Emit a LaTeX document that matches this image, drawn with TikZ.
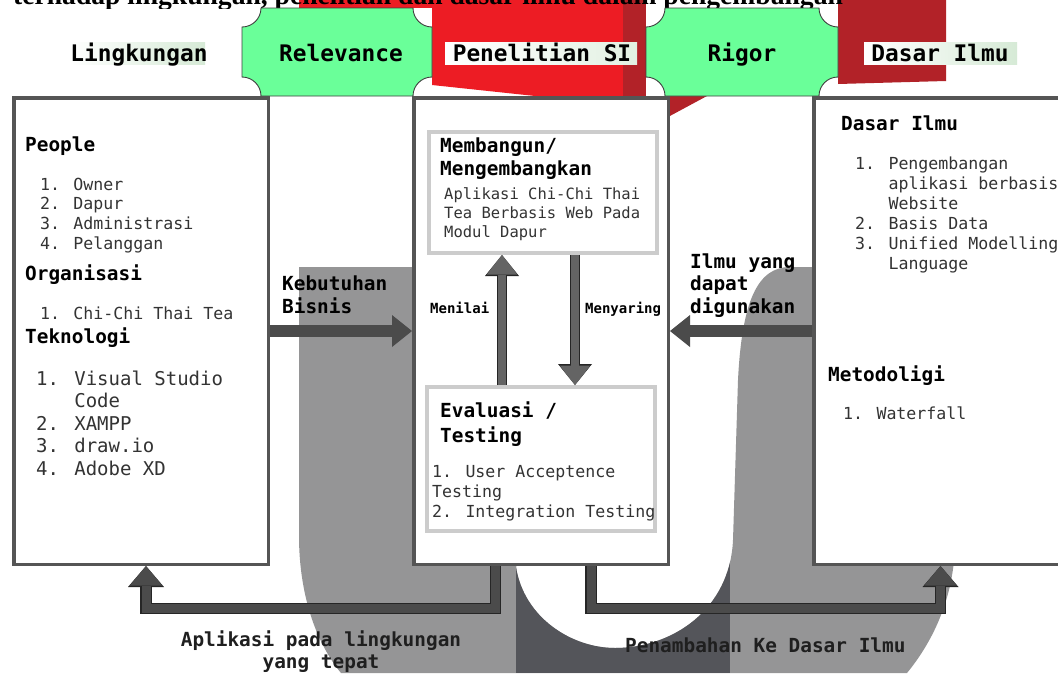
\documentclass[tikz,border=0pt]{standalone}
\usepackage{fontspec}
\setmainfont{Liberation Serif}
\newfontfamily\dmono{DejaVu Sans Mono}
\usetikzlibrary{arrows.meta}

\definecolor{ugray}{RGB}{149,149,150}
\definecolor{udark}{RGB}{84,85,90}
\definecolor{rbright}{RGB}{237,28,36}
\definecolor{rdark}{RGB}{178,34,40}
\definecolor{pgreen}{RGB}{106,255,153}
\definecolor{boxline}{RGB}{85,85,85}
\definecolor{innerline}{RGB}{204,204,204}
\definecolor{arrowfill}{RGB}{75,75,75}
\definecolor{arrowline}{RGB}{38,38,38}
\definecolor{varrowfill}{RGB}{100,100,100}
\definecolor{listtext}{RGB}{51,51,51}
\definecolor{lblgreen}{RGB}{214,234,214}

\newcommand{\plaquepath}[4]{%
  ({#1+19},#3) -- ({#2-19},#3) .. controls ({#2-19},{#3+10.5}) and ({#2-10.5},{#3+19}) .. (#2,{#3+19})
  -- (#2,{#4-19}) .. controls ({#2-10.5},{#4-19}) and ({#2-19},{#4-10.5}) .. ({#2-19},#4)
  -- ({#1+19},#4) .. controls ({#1+19},{#4-10.5}) and ({#1+10.5},{#4-19}) .. (#1,{#4-19})
  -- (#1,{#3+19}) .. controls ({#1+10.5},{#3+19}) and ({#1+19},{#3+10.5}) .. cycle}

\def\mybgUpath{(299,267) -- (516,267) -- (516,567) .. controls (524,618) and (572,648) .. (615,648)
  .. controls (672,648) and (730,610) .. (733,540) -- (738,380) .. controls (742,300) and (758,267) .. (790,267)
  -- (955,267) -- (955,540) .. controls (955,600) and (930,645) .. (907,673) -- (341,673)
  .. controls (318,645) and (300,600) .. (299,540) -- cycle}

\tikzset{
  bigbox/.style={draw=boxline, line width=3.5pt, fill=white, inner sep=0pt},
  innerbox/.style={draw=innerline, line width=4pt, fill=white, inner sep=0pt},
  hdr/.style={font=\dmono\bfseries\fontsize{22.8}{26}\selectfont, anchor=base, inner sep=0pt, text=black},
  headb/.style={font=\dmono\bfseries\fontsize{19.4}{23}\selectfont, anchor=base west, inner sep=0pt, text=black},
  body/.style={font=\dmono\fontsize{16.6}{20}\selectfont, anchor=base west, inner sep=0pt, text=listtext},
  bodybig/.style={font=\dmono\fontsize{19}{23}\selectfont, anchor=base west, inner sep=0pt, text=listtext},
  innertxt/.style={font=\dmono\fontsize{15.5}{19}\selectfont, anchor=base west, inner sep=0pt, text=listtext},
  smallb/.style={font=\dmono\bfseries\fontsize{14}{17}\selectfont, anchor=base west, inner sep=0pt, text=black},
  botlbl/.style={font=\dmono\bfseries\fontsize{19.4}{23}\selectfont, inner sep=0pt, text=black!88},
  harrow/.style={draw=arrowfill, line width=11.5pt, -{Triangle[length=20pt,width=32pt,line width=0pt]}},
  varrow/.style={draw=arrowline, line width=10.5pt, -{Triangle[length=21pt,width=34pt,line width=0pt]},
    postaction={draw=varrowfill, line width=8pt, -{Triangle[length=19.5pt,width=30.5pt,line width=0pt]}}},
  earrow/.style={draw=arrowline, line width=11.5pt, line join=miter, -{Triangle[length=21pt,width=36pt,line width=0pt]},
    postaction={draw=arrowfill, line width=9pt, line join=miter, -{Triangle[length=19.5pt,width=32.5pt,line width=0pt]}}},
}

\begin{document}
\begin{tikzpicture}[x=1pt,y=-1pt]
\useasboundingbox (0,0) rectangle (1058,673);
\fill[white] (0,0) rectangle (1058,673);

% background U shape
\fill[ugray] \mybgUpath;
\begin{scope}
  \clip \mybgUpath;
  \fill[udark] (516,540) rectangle (730,673);
\end{scope}

% background red shapes
\fill[rbright] (299,0) -- (623,0) -- (623,96) -- (535,96) -- (432,85) -- (299,85) -- cycle;
\fill[rdark] (623,0) -- (646,0) -- (646,96) -- (623,96) -- cycle;
\fill[rdark] (838,0) -- (946,0) -- (946,81) -- (838,84) -- cycle;
\fill[rdark] (668,96) -- (707,96) -- (668,117) -- cycle;

% caption (cut off at the top)
\begin{scope}
  \clip (0,0) rectangle (1058,8);
  \node[anchor=base west, inner sep=0pt, font=\bfseries\fontsize{27.6}{30}\selectfont] (caption) at (13,4)
    {terhadap lingkungan, penelitian dan dasar ilmu dalam pengembangan};
\end{scope}

% plaques
\fill[white] (242,8) rectangle (432,96);
\fill[white] (646,8) rectangle (838,96);
\filldraw[fill=pgreen, draw=black!75, line width=0.9pt] \plaquepath{242}{432}{8}{96};
\filldraw[fill=pgreen, draw=black!75, line width=0.9pt] \plaquepath{646}{838}{8}{96};

% header label backgrounds
\shade[left color=white, right color=lblgreen] (69,42) rectangle (205,64);
\shade[left color=white, right color=lblgreen!70] (445,42) rectangle (637,64);
\shade[left color=white, right color=lblgreen] (864,42) rectangle (1017,64);

\node[hdr] (hL) at (139,61) {Lingkungan};
\node[hdr] (hR) at (341,61) {Relevance};
\node[hdr] (hP) at (542,61) {Penelitian SI};
\node[hdr] (hG) at (742,61) {Rigor};
\node[hdr] (hD) at (940,61) {Dasar Ilmu};

% main boxes
\node[bigbox, minimum width=254.5, minimum height=466.5] (lbox) at (141,331) {};
\node[bigbox, minimum width=254.5, minimum height=466.5] (cbox) at (541,331) {};
\node[bigbox, minimum width=300, minimum height=466.5] (rbox) at (963.75,331) {};

% inner boxes
\node[innerbox, minimum width=228, minimum height=121] (buildbox) at (543,192.5) {};
\node[innerbox, minimum width=228, minimum height=144] (evalbox) at (541,459) {};

% coordinates for connectors
\coordinate (kby) at (0,331);
\coordinate (ily) at (0,331);
\coordinate (ux) at (502,0);
\coordinate (dx) at (575,0);
\coordinate (e1x) at (495.5,0);
\coordinate (e2x) at (146,0);
\coordinate (e3x) at (591,0);
\coordinate (e4x) at (940.5,0);
\coordinate (ey) at (0,608.5);

% connectors
\draw[harrow] (lbox.east |- kby) -- (cbox.west |- kby);
\draw[harrow] (rbox.west |- ily) -- (cbox.east |- ily);
\draw[varrow] (evalbox.north -| ux) -- (buildbox.south -| ux);
\draw[varrow] (buildbox.south -| dx) -- (evalbox.north -| dx);
\draw[earrow] (cbox.south -| e1x) -- (e1x |- ey) -- (e2x |- ey) -- (lbox.south -| e2x);
\draw[earrow] (cbox.south -| e3x) -- (e3x |- ey) -- (e4x |- ey) -- (rbox.south -| e4x);

% left box text
\node[headb] (peo) at (25,151) {People};
\node[body] (p1) at (40,190) {1. Owner};
\node[body] (p2) at (40,209.5) {2. Dapur};
\node[body] (p3) at (40,229) {3. Administrasi};
\node[body] (p4) at (40,249) {4. Pelanggan};
\node[headb] (org) at (25,280) {Organisasi};
\node[body] (o1) at (40,319) {1. Chi-Chi Thai Tea};
\node[headb] (tek) at (25,343) {Teknologi};
\node[bodybig] (t1) at (36,385) {1. Visual Studio};
\node[bodybig] (t1b) at (36,407) {\phantom{1. }Code};
\node[bodybig] (t2) at (36,430) {2. XAMPP};
\node[bodybig] (t3) at (36,452) {3. draw.io};
\node[bodybig] (t4) at (36,475) {4. Adobe XD};

% right box text
\node[headb] (dil) at (841,130) {Dasar Ilmu};
\node[body] (d1) at (855,169) {1. Pengembangan};
\node[body] (d1b) at (855,189) {\phantom{1. }aplikasi berbasis};
\node[body] (d1c) at (855,209) {\phantom{1. }Website};
\node[body] (d2) at (855,229) {2. Basis Data};
\node[body] (d3) at (855,249) {3. Unified Modelling};
\node[body] (d3b) at (855,269) {\phantom{3. }Language};
\node[headb] (met) at (828,381) {Metodoligi};
\node[body] (w1) at (843,419) {1. Waterfall};

% centre box text
\node[headb] (mb1) at (440,152) {Membangun/};
\node[headb] (mb2) at (440,175) {Mengembangkan};
\node[innertxt] (ap1) at (444,199) {Aplikasi Chi-Chi Thai};
\node[innertxt] (ap2) at (444,218) {Tea Berbasis Web Pada};
\node[innertxt] (ap3) at (444,237) {Modul Dapur};
\node[headb] (ev1) at (440,417) {Evaluasi /};
\node[headb] (ev2) at (440,442) {Testing};
\node[body] (u1) at (432,477) {1. User Acceptence};
\node[body] (u2) at (432,497) {Testing};
\node[body] (u3) at (432,517) {2. Integration Testing};
\node[smallb] (mn) at (430,313) {Menilai};
\node[smallb] (my) at (585,313) {Menyaring};

% connector labels
\node[headb] (kb1) at (282,290) {Kebutuhan};
\node[headb] (kb2) at (282,313) {Bisnis};
\node[headb] (il1) at (690,268) {Ilmu yang};
\node[headb] (il2) at (690,290) {dapat};
\node[headb] (il3) at (690,313) {digunakan};
\node[botlbl, anchor=base] (bl1) at (321,646) {Aplikasi pada lingkungan};
\node[botlbl, anchor=base] (bl2) at (321,668) {yang tepat};
\node[botlbl, anchor=base west] (br1) at (625,652) {Penambahan Ke Dasar Ilmu};
\end{tikzpicture}
\end{document}
